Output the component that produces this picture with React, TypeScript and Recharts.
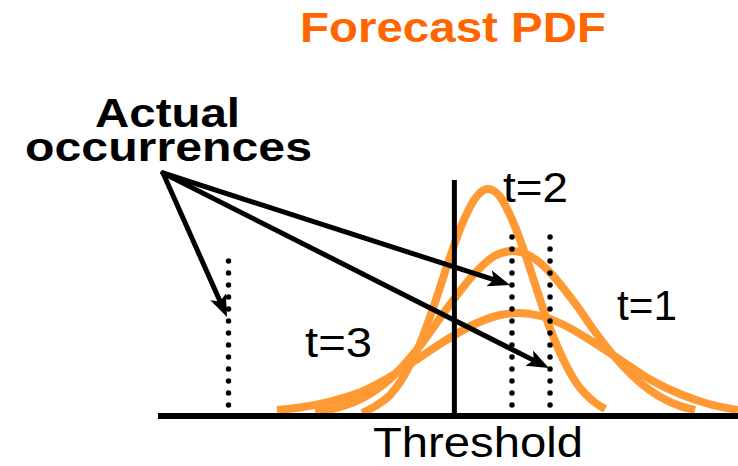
import React from "react";
import { LineChart, Line, XAxis, YAxis, ReferenceLine } from "recharts";

// Forecast PDFs (x: forecast variable, y: density, arbitrary units)
const pdfT2 = [
  { x: 3.52, y: 0.03 }, { x: 3.75, y: 0.1 }, { x: 4.0, y: 0.21 }, { x: 4.25, y: 0.41 },
  { x: 4.5, y: 0.7 }, { x: 4.75, y: 1.09 }, { x: 5.0, y: 1.53 }, { x: 5.25, y: 1.93 },
  { x: 5.5, y: 2.2 }, { x: 5.69, y: 2.27 }, { x: 5.9, y: 2.19 }, { x: 6.1, y: 1.97 },
  { x: 6.3, y: 1.67 }, { x: 6.5, y: 1.32 }, { x: 6.75, y: 0.89 }, { x: 7.0, y: 0.55 },
  { x: 7.25, y: 0.3 }, { x: 7.5, y: 0.15 }, { x: 7.71, y: 0.07 },
];
const pdfT1 = [
  { x: 2.71, y: 0.04 }, { x: 3.0, y: 0.07 }, { x: 3.5, y: 0.17 }, { x: 4.0, y: 0.37 },
  { x: 4.5, y: 0.69 }, { x: 5.0, y: 1.09 }, { x: 5.5, y: 1.45 }, { x: 5.8, y: 1.6 },
  { x: 6.12, y: 1.65 }, { x: 6.5, y: 1.57 }, { x: 6.8, y: 1.41 }, { x: 7.0, y: 1.27 },
  { x: 7.25, y: 1.08 }, { x: 7.5, y: 0.87 }, { x: 8.0, y: 0.51 }, { x: 8.5, y: 0.25 },
  { x: 9.0, y: 0.1 }, { x: 9.26, y: 0.06 },
];
const pdfT3 = [
  { x: 2.05, y: 0.06 }, { x: 2.5, y: 0.09 }, { x: 3.0, y: 0.15 }, { x: 3.5, y: 0.24 },
  { x: 4.0, y: 0.39 }, { x: 4.5, y: 0.58 }, { x: 5.0, y: 0.77 }, { x: 5.5, y: 0.93 },
  { x: 5.9, y: 1.01 }, { x: 6.21, y: 1.03 }, { x: 6.6, y: 1.0 }, { x: 7.0, y: 0.91 },
  { x: 7.5, y: 0.74 }, { x: 8.0, y: 0.55 }, { x: 8.5, y: 0.36 }, { x: 9.0, y: 0.22 },
  { x: 9.5, y: 0.12 }, { x: 10.0, y: 0.06 },
];

const threshold = 5.11;
const thresholdTop = 2.36;
const occurrences = [
  { x: 1.216, top: 1.67 },
  { x: 6.103, top: 1.91 },
  { x: 6.759, top: 1.91 },
];
const occurrenceBottom = 0.11;
const arrowOrigin = { x: 0.086, y: 2.43 };
const arrowTips = [
  { x: 1.19, y: 0.99 },
  { x: 6.07, y: 1.31 },
  { x: 6.74, y: 0.48 },
];

const ORANGE = "#FF9933";

const Arrow = (props: any) => {
  const { x1, y1, x2, y2 } = props;
  const dx = x2 - x1;
  const dy = y2 - y1;
  const L = Math.hypot(dx, dy) || 1;
  const ux = dx / L;
  const uy = dy / L;
  const head = 22;
  const half = 8.5;
  const bx = x2 - ux * head;
  const by = y2 - uy * head;
  return (
    <g>
      <line x1={x1} y1={y1} x2={bx + ux * 4} y2={by + uy * 4} stroke="#000" strokeWidth={5} strokeLinecap="round" />
      <polygon
        points={`${x2},${y2} ${bx - uy * half},${by + ux * half} ${bx + ux * 5},${by + uy * 5} ${bx + uy * half},${by - ux * half}`}
        fill="#000"
      />
    </g>
  );
};

const Dotted = (props: any) => {
  const { x1, y1, x2, y2 } = props;
  return (
    <line
      x1={x1}
      y1={y1}
      x2={x2}
      y2={y2}
      stroke="#000"
      strokeWidth={5.5}
      strokeDasharray="0 12"
      strokeLinecap="round"
    />
  );
};

const FONT = "'Liberation Sans', Arial, Helvetica, sans-serif";

export default function App() {
  return (
    <div style={{ position: "absolute", left: 0, top: 0, width: 738, height: 466, background: "#fff" }}>
      <LineChart width={738} height={466} margin={{ top: 166, right: 0, bottom: 50, left: 158 }}>
        <XAxis type="number" dataKey="x" domain={[0, 10]} hide allowDataOverflow />
        <YAxis type="number" domain={[0, 2.5]} hide allowDataOverflow />
        <Line data={pdfT3} dataKey="y" type="monotone" stroke={ORANGE} strokeWidth={8} dot={false} activeDot={false} isAnimationActive={false} />
        <Line data={pdfT1} dataKey="y" type="monotone" stroke={ORANGE} strokeWidth={8} dot={false} activeDot={false} isAnimationActive={false} />
        <Line data={pdfT2} dataKey="y" type="monotone" stroke={ORANGE} strokeWidth={8} dot={false} activeDot={false} isAnimationActive={false} />
        <ReferenceLine y={0} stroke="#000" strokeWidth={6} ifOverflow="visible" />
        <ReferenceLine
          segment={[{ x: threshold, y: 0 }, { x: threshold, y: thresholdTop }]}
          stroke="#000"
          strokeWidth={5}
          ifOverflow="visible"
        />
        {occurrences.map((o, i) => (
          <ReferenceLine
            key={"occ" + i}
            segment={[{ x: o.x, y: occurrenceBottom }, { x: o.x, y: o.top }]}
            shape={Dotted}
            ifOverflow="visible"
          />
        ))}
        {arrowTips.map((t, i) => (
          <ReferenceLine
            key={"arr" + i}
            segment={[arrowOrigin, t]}
            shape={Arrow}
            ifOverflow="visible"
          />
        ))}
      </LineChart>
      <svg
        width={738}
        height={466}
        style={{ position: "absolute", left: 0, top: 0, pointerEvents: "none" }}
      >
        <text x={300} y={42} fontFamily={FONT} fontWeight="bold" fontSize={42} fill="#FF6600" textLength={306} lengthAdjust="spacingAndGlyphs">
          Forecast PDF
        </text>
        <text fontFamily={FONT} fontWeight="bold" fontSize={41} fill="#000">
          <tspan x={95} y={127} textLength={145} lengthAdjust="spacingAndGlyphs">Actual</tspan>
          <tspan x={25} y={161} textLength={287} lengthAdjust="spacingAndGlyphs">occurrences</tspan>
        </text>
        <text x={503} y={202} fontFamily={FONT} fontSize={42} fill="#000" textLength={65} lengthAdjust="spacingAndGlyphs">
          t=2
        </text>
        <text x={617} y={320} fontFamily={FONT} fontSize={42} fill="#000" textLength={60} lengthAdjust="spacingAndGlyphs">
          t=1
        </text>
        <text x={305} y={357} fontFamily={FONT} fontSize={42} fill="#000" textLength={67} lengthAdjust="spacingAndGlyphs">
          t=3
        </text>
        <text x={373} y={457} fontFamily={FONT} fontSize={42} fill="#000" textLength={210} lengthAdjust="spacingAndGlyphs">
          Threshold
        </text>
      </svg>
    </div>
  );
}
